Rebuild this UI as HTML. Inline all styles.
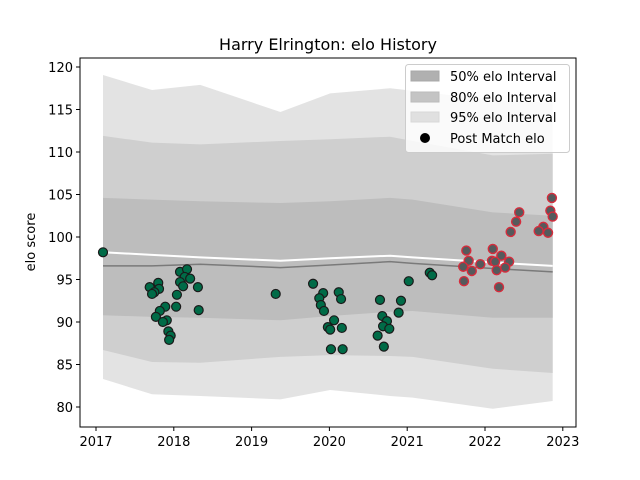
<!DOCTYPE html>
<html><head><meta charset="utf-8"><style>
body{margin:0;background:#fff;}
svg{display:block;font-family:"DejaVu Sans","Liberation Sans",sans-serif;}
</style></head><body>
<svg id="chart" width="640" height="480" viewBox="0 0 640 480" xmlns="http://www.w3.org/2000/svg">
<rect width="640" height="480" fill="#fff"/>
<text x="328" y="50" text-anchor="middle" font-size="16">Harry Elrington: elo History</text>
<g id="bands"></g><g id="lines"></g><g id="points"></g><g id="axes"></g>
<g>
<rect x="405.5" y="64.5" width="164" height="88" rx="3" fill="#fff" fill-opacity="0.8" stroke="#ccc"/>
<rect x="411" y="71" width="28" height="10" fill="#b0b0b0" stroke="#a8a8a8"/>
<text x="450" y="81" font-size="13">50% elo Interval</text>
<rect x="411" y="92" width="28" height="10" fill="#c4c4c4" stroke="#bbb"/>
<text x="450" y="102" font-size="13">80% elo Interval</text>
<rect x="411" y="112" width="28" height="10" fill="#e0e0e0" stroke="#d8d8d8"/>
<text x="450" y="122" font-size="13">95% elo Interval</text>
<circle cx="425" cy="138" r="5" fill="#000"/>
<text x="450" y="143" font-size="13">Post Match elo</text>
</g>
</svg>
<script>
const bandDates=[2017.09,2017.72,2018.34,2019.37,2020.01,2020.78,2021.07,2022.10,2022.87];
const top95=[119.06,117.3,117.9,114.7,116.9,117.5,117.2,116.1,115.8];
const top80=[111.9,111.1,110.9,111.3,111.5,111.8,111.3,109.6,109.8];
const top50=[104.6,104.4,104.2,104.0,104.2,104.6,104.4,102.9,102.5];
const center=[96.6,96.6,96.8,96.4,96.7,97.1,96.9,96.3,95.9];
const bot50=[90.8,90.6,90.5,90.2,90.7,91.2,91.3,90.5,90.5];
const bot80=[86.7,85.3,85.2,85.9,86.1,86.0,85.9,84.5,84.0];
const bot95=[83.3,81.5,81.3,80.9,82.0,81.3,81.1,79.8,80.7];
const whiteLine=[98.2,97.9,97.6,97.2,97.5,97.8,97.6,97.0,96.6];
const greenDates=[2017.09,2017.69,2017.80,2017.81,2017.75,2017.72,2018.08,2018.17,2018.14,2018.08,2018.21,2018.12,2018.31,2018.04,2018.03,2017.89,2017.82,2017.77,2017.91,2017.86,2017.93,2017.96,2017.94,2018.32,2019.31,2019.79,2019.92,2019.87,2019.89,2019.93,2020.12,2020.15,2020.06,2019.98,2020.01,2020.16,2020.02,2020.17,2020.65,2020.92,2020.68,2020.74,2020.69,2020.77,2020.62,2020.70,2020.89,2021.02,2021.29,2021.32];
const greenElo=[98.2,94.1,94.6,93.9,93.5,93.3,95.9,96.2,95.3,94.7,95.1,94.2,94.1,93.2,91.8,91.8,91.3,90.6,90.2,90.0,88.9,88.4,87.9,91.4,93.3,94.5,93.4,92.8,92.0,91.3,93.5,92.7,90.2,89.4,89.1,89.3,86.8,86.8,92.6,92.5,90.7,90.1,89.5,89.2,88.4,87.1,91.1,94.8,95.8,95.5];
const redDates=[2022.86,2022.84,2022.87,2022.75,2022.69,2022.81,2022.44,2022.40,2022.33,2021.76,2021.79,2021.72,2021.83,2021.94,2022.10,2022.21,2022.09,2022.13,2022.31,2022.15,2022.26,2021.73,2022.18];
const redElo=[104.6,103.1,102.4,101.2,100.7,100.5,102.9,101.8,100.6,98.4,97.2,96.5,96.0,96.8,98.6,97.8,97.2,97.1,97.1,96.1,96.4,94.8,94.1];
const xTicks=[2017,2018,2019,2020,2021,2022,2023];
const yTicks=[80,85,90,95,100,105,110,115,120];

const L=80,R=576,T=58,B=427;
const X=d=>96+(d-2017)*77.8;
const Y=v=>67+(120-v)*8.5;
const NS="http://www.w3.org/2000/svg";
function mk(tag,attrs,parent){const e=document.createElementNS(NS,tag);for(const k in attrs)e.setAttribute(k,attrs[k]);parent.appendChild(e);return e;}
const bands=document.getElementById('bands');
function band(up,lo,fill,name){
  let d='M'+bandDates.map((t,i)=>X(t)+','+Y(up[i])).join('L');
  for(let i=bandDates.length-1;i>=0;i--)d+='L'+X(bandDates[i])+','+Y(lo[i]);
  const p=mk('path',{d:d+'Z',fill:fill},bands);
  
  
}
band(top95,bot95,'#e3e3e3','band-95');
band(top80,bot80,'#cfcfcf','band-80');
band(top50,bot50,'#bdbdbd','band-50');
const lines=document.getElementById('lines');
function line(vals,stroke,w,name){
  const p=mk('polyline',{points:bandDates.map((t,i)=>X(t)+','+Y(vals[i])).join(' '),fill:'none',stroke:stroke,'stroke-width':w},lines);
  
  
}
line(center,'#7a7a7a',1.5,'median-line');
line(whiteLine,'#ffffff',2,'expected-elo-line');
const pts=document.getElementById('points');
greenDates.forEach((t,i)=>{
  const c=mk('circle',{cx:X(t),cy:Y(greenElo[i]),r:4.5,fill:'#006b47',stroke:'#1a1a1a','stroke-width':1.2},pts);
  
  
});
redDates.forEach((t,i)=>{
  const c=mk('circle',{cx:X(t),cy:Y(redElo[i]),r:4.5,fill:'#555a5c',stroke:'#d62c3c','stroke-width':1.4},pts);
  
  
});
const ax=document.getElementById('axes');
const frame=mk('rect',{x:L,y:T,width:R-L,height:B-T,fill:'none',stroke:'#000','stroke-width':1},ax);


xTicks.forEach(t=>{
  mk('line',{x1:X(t),x2:X(t),y1:B,y2:B+4,stroke:'#000'},ax);
  const tx=mk('text',{x:X(t),y:B+19,'text-anchor':'middle','font-size':'13'},ax);
  tx.textContent=t;
  
  
});
yTicks.forEach(v=>{
  mk('line',{x1:L-4,x2:L,y1:Y(v),y2:Y(v),stroke:'#000'},ax);
  const tx=mk('text',{x:L-7,y:Y(v)+5,'text-anchor':'end','font-size':'13'},ax);
  tx.textContent=v;
  
  
});
const yt=mk('text',{x:0,y:0,transform:'translate(35,242) rotate(-90)','text-anchor':'middle','font-size':'13'},ax);
yt.textContent='elo score';


</script>
</body></html>
